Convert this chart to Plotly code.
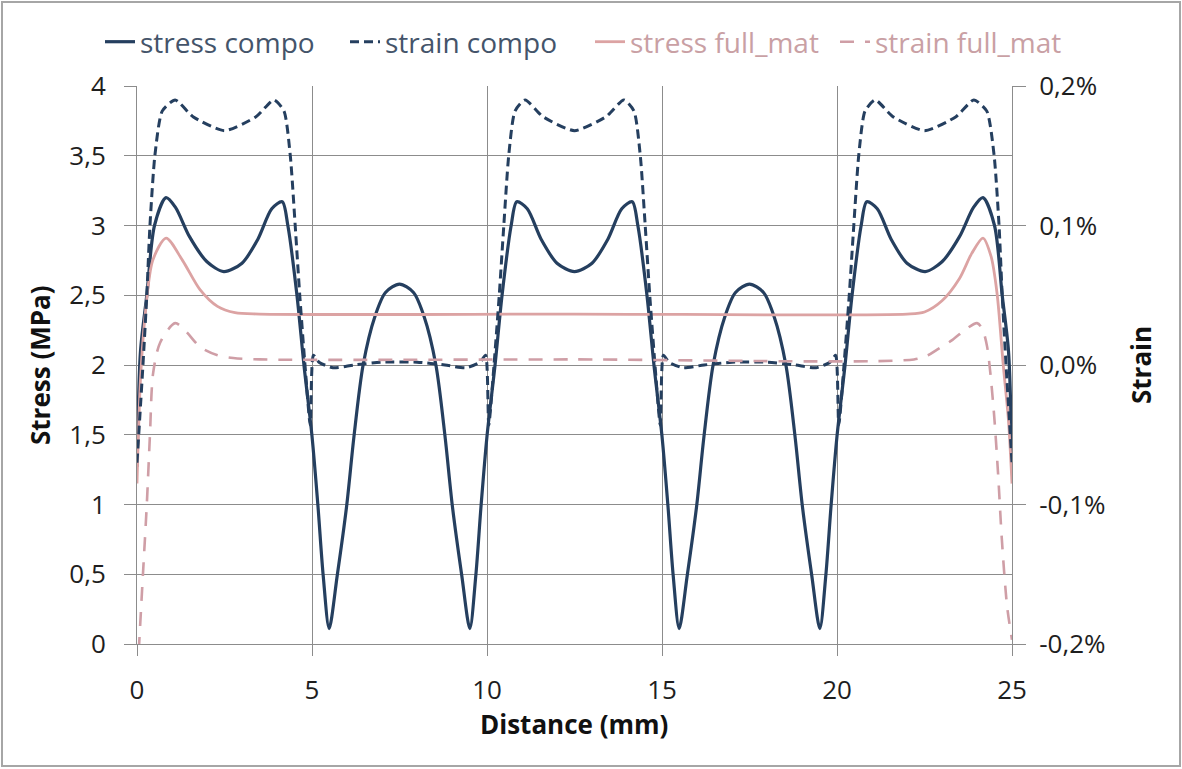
import plotly.graph_objects as go

# ---------------- data ----------------
series_names = ["stress compo", "strain compo", "stress full_mat", "strain full_mat"]

x_stress_compo = [0.0, 0.1, 0.28, 0.5, 0.83, 1.1, 1.5, 2.0, 2.48, 3.0, 3.45, 3.85, 4.15, 4.31, 4.57, 4.77,
                  5.0, 5.17, 5.32, 5.49, 5.72, 5.99, 6.2, 6.46, 6.8, 7.1, 7.5, 7.9, 8.2, 8.54, 8.8, 9.01,
                  9.28, 9.51, 9.68, 9.83, 10.0, 10.23, 10.43, 10.69, 10.85, 11.15, 11.55, 12.0, 12.5, 13.0,
                  13.45, 13.85, 14.15, 14.31, 14.57, 14.77, 15.0, 15.17, 15.32, 15.49, 15.72, 15.99, 16.2,
                  16.46, 16.8, 17.1, 17.5, 17.9, 18.2, 18.54, 18.8, 19.01, 19.28, 19.51, 19.68, 19.83, 20.0,
                  20.23, 20.43, 20.69, 20.85, 21.15, 21.55, 22.0, 22.52, 23.0, 23.5, 23.9, 24.17, 24.5,
                  24.72, 24.9, 25.0]
y_stress_compo = [1.27, 2.1, 2.5, 3.0, 3.2, 3.13, 2.92, 2.74, 2.67, 2.73, 2.9, 3.12, 3.17, 3.0, 2.5, 2.0,
                  1.49, 0.99, 0.49, 0.11, 0.49, 0.99, 1.49, 2.0, 2.35, 2.52, 2.58, 2.52, 2.35, 2.0, 1.49, 0.99,
                  0.49, 0.11, 0.49, 0.99, 1.49, 2.0, 2.5, 3.0, 3.17, 3.12, 2.9, 2.73, 2.67, 2.73,
                  2.9, 3.12, 3.17, 3.0, 2.5, 2.0, 1.49, 0.99, 0.49, 0.11, 0.49, 0.99, 1.49,
                  2.0, 2.35, 2.52, 2.58, 2.52, 2.35, 2.0, 1.49, 0.99, 0.49, 0.11, 0.49, 0.99, 1.49,
                  2.0, 2.5, 3.0, 3.17, 3.12, 2.9, 2.73, 2.67, 2.74, 2.92, 3.13, 3.2, 3.0,
                  2.5, 2.1, 1.3]

x_strain_compo = [0.0, 0.17, 0.28, 0.37, 0.51, 0.72, 1.09, 1.6, 2.5, 3.4, 3.91, 4.2, 4.38, 4.52, 4.65, 4.8,
                  4.95, 5.04, 5.2, 5.6, 6.2, 7.0, 8.0, 8.8, 9.4, 9.8, 9.96, 10.05, 10.2, 10.35, 10.48, 10.62,
                  10.8, 11.09, 11.6, 12.5, 13.4, 13.91, 14.2, 14.38, 14.52, 14.65, 14.8, 14.95, 15.04, 15.2,
                  15.6, 16.2, 17.0, 18.0, 18.8, 19.4, 19.8, 19.96, 20.05, 20.2, 20.35, 20.48, 20.62, 20.8,
                  21.09, 21.6, 22.5, 23.4, 23.91, 24.28, 24.49, 24.63, 24.72, 24.83, 25.0]
y_strain_compo = [-0.0007, 0.0, 0.0005, 0.001, 0.0015, 0.00182, 0.0019, 0.00178, 0.00168, 0.00178, 0.0019,
                  0.00182, 0.0015, 0.001, 0.0005, 0.0, -0.00043, 0.00007, 0.00002, -0.00002, 0.0, 0.00002,
                  0.00002, 0.0, -0.00002, 0.00002, 0.00007, -0.00043, 0.0, 0.0005, 0.001, 0.0015, 0.00182,
                  0.0019, 0.00178, 0.00168, 0.00178, 0.0019, 0.00182, 0.0015, 0.001, 0.0005, 0.0, -0.00043,
                  0.00007, 0.00002, -0.00002, 0.0, 0.00002, 0.00002, 0.0, -0.00002, 0.00002, 0.00007,
                  -0.00043, 0.0, 0.0005, 0.001, 0.0015, 0.00182, 0.0019, 0.00178, 0.00168, 0.00178, 0.0019,
                  0.00182, 0.0015, 0.001, 0.0005, 0.0, -0.0007]

x_stress_full = [0.0, 0.1, 0.25, 0.45, 0.83, 1.3, 1.8, 2.3, 2.8, 3.5, 12.5, 22.0, 22.5, 23.0, 23.5, 23.85,
                 24.17, 24.4, 24.57, 24.75, 24.9, 25.0]
y_stress_full = [1.15, 1.9, 2.4, 2.75, 2.91, 2.75, 2.54, 2.42, 2.375, 2.365, 2.365, 2.365, 2.38, 2.46, 2.62,
                 2.8, 2.91, 2.78, 2.52, 2.0, 1.6, 1.15]

x_strain_full = [0.05, 0.17, 0.28, 0.37, 0.46, 0.66, 1.09, 1.4, 1.8, 2.3, 2.75, 3.5, 12.5, 22.2, 22.6, 22.86,
                 23.3, 23.7, 24.0, 24.15, 24.29, 24.47, 24.6, 24.71, 24.86, 25.0]
y_strain_full = [-0.00205, -0.0015, -0.001, -0.0005, -0.00006, 0.00016, 0.0003, 0.00024, 0.00013, 0.00007,
                 0.00005, 0.00004, 0.00004, 0.00004, 0.00007, 0.00011, 0.00018, 0.00026, 0.0003, 0.00026,
                 0.00013, -0.0003, -0.00077, -0.00125, -0.00173, -0.00197]

x_ticks = [0, 5, 10, 15, 20, 25]
y_ticks = [0, 0.5, 1, 1.5, 2, 2.5, 3, 3.5, 4]
y2_ticks = [-0.002, -0.001, 0.0, 0.001, 0.002]
y2_ticktext = ["-0,2%", "-0,1%", "0,0%", "0,1%", "0,2%"]

# ---------------- styling ----------------
NAVY = "#253f5f"
PINK = "#dca3a3"
PINK_D = "#cf9ea6"
GRID = "#8c8c8c"
FONT = "Open Sans"
legend_text_colors = ["#44546a", "#44546a", "#c9a0a4", "#c9a0a4"]


def lname(i):
    return f'<span style="color:{legend_text_colors[i]}">{series_names[i]}</span>'


fig = go.Figure()
fig.add_trace(go.Scatter(x=x_stress_compo, y=y_stress_compo, name=lname(0), mode="lines",
                         line=dict(color=NAVY, width=3.2, shape="spline", smoothing=0.8)))
fig.add_trace(go.Scatter(x=x_strain_compo, y=y_strain_compo, name=lname(1), mode="lines", yaxis="y2",
                         line=dict(color=NAVY, width=3, dash="9px,5px", shape="spline", smoothing=0.6)))
fig.add_trace(go.Scatter(x=x_stress_full, y=y_stress_full, name=lname(2), mode="lines",
                         line=dict(color=PINK, width=2.8, shape="spline", smoothing=0.8)))
fig.add_trace(go.Scatter(x=x_strain_full, y=y_strain_full, name=lname(3), mode="lines", yaxis="y2",
                         line=dict(color=PINK_D, width=2.6, dash="14px,11px", shape="spline", smoothing=0.8)))

L, R, T, B = 137, 170, 86, 125
W, H = 1182, 769
pw, ph = W - L - R, H - T - B


def px(xp):
    return (xp - L) / pw


def py(yp):
    return (H - B - yp) / ph


axis_common = dict(showgrid=True, gridcolor=GRID, gridwidth=1, showline=True, linecolor=GRID, linewidth=1,
                   ticks="outside", tickcolor=GRID, tickwidth=1, zeroline=False,
                   tickfont=dict(family=FONT, size=26, color="#1e1e1e"))

fig.update_layout(
    width=W, height=H,
    margin=dict(l=L, r=R, t=T, b=B),
    paper_bgcolor="white", plot_bgcolor="white",
    separators=", ",
    font=dict(family=FONT, size=26, color="#1e1e1e"),
    showlegend=True,
    legend=dict(orientation="h", x=px(100), xanchor="left", y=py(42), yanchor="middle",
                font=dict(family=FONT, size=28), bgcolor="rgba(0,0,0,0)", itemwidth=30,
                entrywidth=200),
    xaxis=dict(range=[0, 25], tickvals=x_ticks, ticklen=11, ticklabelstandoff=12, **axis_common),
    yaxis=dict(range=[0, 4], tickvals=y_ticks, ticklen=12, ticklabelstandoff=13, **axis_common),
    yaxis2=dict(range=[-0.002, 0.002], overlaying="y", side="right", tickvals=y2_ticks, ticktext=y2_ticktext,
                showgrid=False, showline=True, linecolor=GRID, ticks="outside", tickcolor=GRID, ticklen=13,
                ticklabelstandoff=8, zeroline=False,
                tickfont=dict(family=FONT, size=26, color="#1e1e1e")),
    annotations=[
        dict(text="<b>Distance (mm)</b>", xref="paper", yref="paper", x=px(574), y=py(724),
             xanchor="center", yanchor="middle", showarrow=False, font=dict(family=FONT, size=26, color="#111")),
        dict(text="<b>Stress (MPa)</b>", xref="paper", yref="paper", x=px(40), y=py(365), textangle=-90,
             xanchor="center", yanchor="middle", showarrow=False, font=dict(family=FONT, size=26, color="#111")),
        dict(text="<b>Strain</b>", xref="paper", yref="paper", x=px(1141), y=py(365), textangle=-90,
             xanchor="center", yanchor="middle", showarrow=False, font=dict(family=FONT, size=26, color="#111")),
    ],
    shapes=[dict(type="rect", xref="paper", yref="paper", x0=px(2), x1=px(1180), y0=py(766), y1=py(2),
                 line=dict(color="#a6a6a6", width=2), layer="below")],
)

fig.write_html("out.html")
